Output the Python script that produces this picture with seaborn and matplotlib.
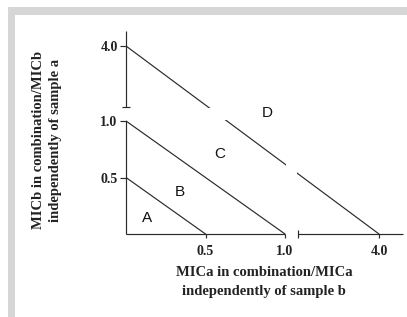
import numpy as np
import pandas as pd
import matplotlib
matplotlib.use("Agg")
import matplotlib.pyplot as plt
from matplotlib.patches import Rectangle
import seaborn as sns

# ---- data ----
levels = [0.5, 1.0, 4.0]                 # isobole intercepts (FIC levels)
zone_names = ["A", "B", "C", "D"]
zone_x = [0.13, 0.34, 0.59, 0.89]
zone_y = [0.14, 0.37, 0.71, 1.32]
tick_vals = [0.5, 1.0, 4.0]
tick_labels = ["0.5", "1.0", "4.0"]
xlabel = "MICa in combination/MICa\nindependently of sample b"
ylabel = "MICb in combination/MICb\nindependently of sample a"

rows = []
for v in levels:
    rows.append({"curve": str(v), "x": 0.0, "y": v})
    rows.append({"curve": str(v), "x": v, "y": 0.0})
df = pd.DataFrame(rows)

# ---- compressed (broken) scales ----
KX = 0.19706
KY = 0.22124

def make_scale(k):
    def fwd(v):
        v = np.asarray(v, dtype=float)
        return np.where(v <= 1.0, v, 1.0 + (v - 1.0) * k)
    def inv(u):
        u = np.asarray(u, dtype=float)
        return np.where(u <= 1.0, u, 1.0 + (u - 1.0) / k)
    return fwd, inv

sns.set_style("white")
W, H = 407, 317
fig = plt.figure(figsize=(W / 100, H / 100), dpi=100)
fig.patch.set_facecolor("white")

# gray frame
fig.patches.append(Rectangle((8 / W, 0), 1, 1 - 7 / H, transform=fig.transFigure,
                             facecolor="#d6d6d6", edgecolor="none", zorder=-5))
fig.patches.append(Rectangle((15 / W, 0), 1, 1 - 15 / H, transform=fig.transFigure,
                             facecolor="white", edgecolor="none", zorder=-4))

ax = fig.add_axes([126 / W, 1 - 234 / H, 277 / W, 203 / H])
ax.patch.set_alpha(0)

lc = "#2a2a2a"
sns.lineplot(data=df, x="x", y="y", units="curve", estimator=None, sort=False,
             color=lc, linewidth=0.85, ax=ax, legend=False, zorder=2)

ax.set_xscale("function", functions=make_scale(KX))
ax.set_yscale("function", functions=make_scale(KY))
ax.set_xlim(0, 4.766)
ax.set_ylim(0, 4.60)

# break bands
xb0, xb1, xcap = 1.032, 1.383, 1.415
yb0, yb1, ycap = 1.040, 1.520, 1.56
ax.axvspan(xb0, xb1, color="white", zorder=3, lw=0)
ax.axhspan(yb0, yb1, color="white", zorder=3, lw=0)

for s in ax.spines.values():
    s.set_visible(False)

# broken axis lines
kw = dict(color=lc, lw=0.85, clip_on=False, zorder=4, solid_capstyle="butt")
ax.plot([0, 1.0], [0, 0], **kw)
ax.plot([xcap, 4.766], [0, 0], **kw)
ax.plot([0, 0], [0, 1.0], **kw)
ax.plot([0, 0], [ycap, 4.60], **kw)
ax.plot([xcap], [0], marker="|", ms=6, mew=0.85, color=lc, clip_on=False, zorder=4)
ax.plot([0], [ycap], marker="_", ms=6, mew=0.85, color=lc, clip_on=False, zorder=4)

serif = ["Liberation Serif", "DejaVu Serif"]
ax.set_xticks(tick_vals, tick_labels)
ax.set_yticks(tick_vals, tick_labels)
ax.tick_params(axis="both", which="both", length=4, width=0.85, color=lc,
               direction="out", bottom=True, left=True, pad=2)
ax.tick_params(axis="x", length=3, pad=5)
for lab in ax.get_xticklabels() + ax.get_yticklabels():
    lab.set_fontfamily(serif)
    lab.set_fontweight("bold")
    lab.set_fontsize(10)
    lab.set_color("#222222")
ax.set_xlabel("")
ax.set_ylabel("")

for name, zx, zy in zip(zone_names, zone_x, zone_y):
    ax.text(zx, zy, name, fontsize=11, family="Liberation Sans", ha="center",
            va="center", color="#111111", zorder=6)

fig.text(264 / W, 1 - 282 / H, xlabel, ha="center", va="center", fontsize=10.5,
         fontweight="bold", family=serif, linespacing=1.5, color="#222222")
fig.text(47 / W, 1 - 140 / H, ylabel, ha="center", va="center", fontsize=10.5,
         fontweight="bold", family=serif, linespacing=1.45, rotation=90,
         color="#222222")

fig.savefig("out.png", dpi=100)
